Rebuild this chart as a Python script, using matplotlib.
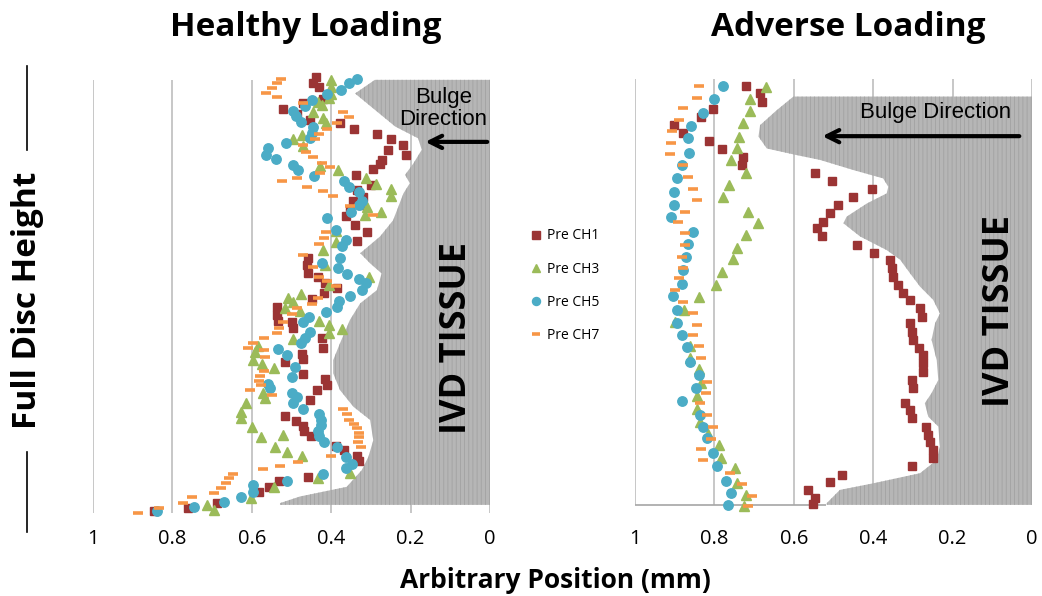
import matplotlib
matplotlib.use('Agg')
import matplotlib.pyplot as plt
from matplotlib.lines import Line2D

plt.rcParams['font.family'] = ['Open Sans', 'DejaVu Sans']
plt.rcParams['hatch.linewidth'] = 0.6

# colours used by the Excel series
RED = '#9b3434'
GREEN = '#9bbb59'
BLUE = '#4bacc6'
ORANGE = '#f79646'
GRID = '#bdbdbd'

ticks = [1, 0.8, 0.6, 0.4, 0.2, 0]
tick_labels = ['1', '0.8', '0.6', '0.4', '0.2', '0']

# ---------------- Healthy loading (left) ----------------
# tissue boundary (position, height %)
hl_bound_x = [0.290, 0.340, 0.239, 0.181, 0.172, 0.193, 0.214, 0.202, 0.218, 0.244,
              0.277, 0.327, 0.302, 0.273, 0.285, 0.327, 0.353, 0.378, 0.395, 0.395,
              0.378, 0.344, 0.302, 0.294, 0.306, 0.323, 0.361, 0.479, 0.529, 0.529]
hl_bound_h = [98.9, 95.8, 88.3, 85.6, 83.0, 79.9, 77.3, 75.4, 73.1, 67.0,
              63.3, 59.5, 57.2, 54.9, 51.1, 48.1, 44.3, 39.0, 35.2, 32.2,
              28.4, 24.6, 21.6, 17.0, 13.3, 10.2, 6.4, 4.2, 2.7, 2.3]

hl_ch1_x = [0.438, 0.447, 0.430, 0.421, 0.472, 0.521, 0.487, 0.453, 0.378, 0.343,
            0.284, 0.250, 0.220, 0.256, 0.212, 0.273, 0.277, 0.294, 0.338, 0.301,
            0.334, 0.319, 0.344, 0.326, 0.353, 0.363, 0.340, 0.311, 0.336, 0.458,
            0.462, 0.458, 0.432, 0.416, 0.386, 0.418, 0.449, 0.536, 0.537, 0.533,
            0.500, 0.495, 0.424, 0.420, 0.474, 0.470, 0.516, 0.472, 0.416, 0.410,
            0.437, 0.453, 0.516, 0.489, 0.472, 0.469, 0.450, 0.388, 0.368, 0.334,
            0.329, 0.458, 0.531, 0.556, 0.581, 0.687, 0.760, 0.846]
hl_ch1_h = [99.5, 98.1, 97.2, 94.5, 93.6, 92.2, 91.1, 89.8, 89.0, 87.7,
            86.6, 85.4, 84.1, 83.0, 81.8, 80.7, 79.8, 78.6, 77.3, 75.0,
            73.9, 72.3, 71.4, 70.5, 69.3, 68.0, 65.9, 64.4, 62.3, 58.3,
            56.8, 54.9, 54.2, 52.7, 51.7, 50.4, 49.1, 47.3, 45.5, 44.1,
            43.8, 42.4, 40.2, 37.9, 36.7, 35.5, 34.8, 32.0, 30.8, 29.5,
            28.4, 26.1, 22.5, 21.4, 20.2, 19.2, 18.0, 15.7, 14.8, 13.3,
            12.3, 8.7, 7.8, 6.4, 5.3, 2.8, 1.7, 0.8]

hl_ch3_x = [0.401, 0.401, 0.401, 0.405, 0.432, 0.424, 0.447, 0.420, 0.413, 0.474,
            0.497, 0.472, 0.428, 0.382, 0.312, 0.287, 0.250, 0.250, 0.311, 0.275,
            0.315, 0.388, 0.388, 0.420, 0.416, 0.304, 0.405, 0.477, 0.508, 0.497,
            0.516, 0.479, 0.430, 0.405, 0.374, 0.405, 0.497, 0.584, 0.592, 0.596,
            0.575, 0.545, 0.571, 0.567, 0.615, 0.626, 0.628, 0.600, 0.578, 0.522,
            0.542, 0.511, 0.474, 0.353, 0.432, 0.544, 0.603, 0.712, 0.695]
hl_ch3_h = [98.9, 97.3, 95.7, 94.7, 93.9, 93.2, 91.7, 90.2, 89.0, 86.4,
            85.4, 83.9, 79.3, 78.4, 76.5, 75.2, 74.0, 72.5, 70.1, 68.9,
            68.2, 64.5, 62.1, 60.2, 56.8, 54.2, 52.3, 50.2, 49.4, 48.3,
            47.1, 46.4, 44.1, 43.2, 42.3, 41.3, 40.0, 38.3, 37.1, 35.2,
            34.3, 33.3, 27.7, 26.5, 25.4, 23.3, 22.0, 20.1, 17.7, 18.2,
            15.5, 14.4, 13.3, 9.5, 8.3, 6.4, 3.8, 2.3, 1.1]

hl_ch5_x = [0.334, 0.354, 0.376, 0.410, 0.449, 0.466, 0.497, 0.489, 0.477, 0.447,
            0.449, 0.453, 0.514, 0.558, 0.563, 0.539, 0.495, 0.483, 0.443, 0.368,
            0.354, 0.329, 0.323, 0.329, 0.351, 0.410, 0.388, 0.363, 0.374, 0.378,
            0.424, 0.382, 0.359, 0.329, 0.312, 0.323, 0.353, 0.380, 0.385, 0.413,
            0.455, 0.472, 0.453, 0.466, 0.477, 0.533, 0.512, 0.491, 0.500, 0.558,
            0.554, 0.500, 0.487, 0.497, 0.472, 0.430, 0.426, 0.426, 0.432, 0.430,
            0.418, 0.386, 0.363, 0.348, 0.363, 0.420, 0.512, 0.596, 0.596, 0.626,
            0.670, 0.746, 0.838]
hl_ch5_h = [99.2, 98.1, 96.7, 95.7, 94.3, 93.0, 91.9, 90.7, 89.4, 88.1,
            86.9, 85.6, 84.5, 83.3, 81.8, 80.8, 79.5, 78.4, 77.0, 76.0,
            74.6, 73.3, 71.4, 70.5, 68.9, 67.4, 64.8, 62.5, 61.2, 58.5,
            57.2, 56.1, 54.7, 53.6, 52.7, 51.1, 49.8, 48.6, 47.3, 46.2,
            45.1, 43.9, 41.5, 40.2, 39.0, 37.7, 36.4, 33.7, 31.4, 29.8,
            28.8, 27.7, 26.9, 25.4, 24.0, 23.0, 21.6, 20.5, 19.2, 18.0,
            16.7, 15.4, 13.1, 11.7, 10.6, 9.3, 7.8, 6.8, 5.3, 4.2,
            3.0, 1.9, 0.8]

hl_ch7_x = [0.527, 0.537, 0.550, 0.563, 0.537, 0.472, 0.371, 0.354, 0.386, 0.411,
            0.430, 0.441, 0.472, 0.463, 0.447, 0.424, 0.403, 0.427, 0.487, 0.525,
            0.462, 0.421, 0.395, 0.353, 0.294, 0.413, 0.418, 0.430, 0.470, 0.445,
            0.430, 0.411, 0.388, 0.432, 0.449, 0.487, 0.500, 0.521, 0.531, 0.537,
            0.569, 0.598, 0.609, 0.569, 0.567, 0.569, 0.579, 0.581, 0.578, 0.605,
            0.550, 0.371, 0.361, 0.354, 0.343, 0.336, 0.329, 0.329, 0.332, 0.326,
            0.401, 0.483, 0.529, 0.571, 0.648, 0.657, 0.665, 0.678, 0.695, 0.751,
            0.774, 0.833, 0.886]
hl_ch7_h = [99.2, 98.1, 97.0, 95.8, 94.9, 93.7, 91.7, 90.5, 89.0, 87.7,
            86.6, 85.4, 84.1, 82.6, 81.3, 80.1, 79.0, 77.8, 76.7, 75.8,
            74.6, 73.7, 72.5, 70.2, 68.2, 64.4, 63.0, 61.5, 59.2, 56.4,
            54.2, 53.2, 52.1, 49.4, 47.9, 47.1, 45.6, 43.9, 42.6, 41.3,
            40.2, 39.2, 38.0, 37.5, 36.0, 32.8, 31.6, 30.5, 29.5, 28.4,
            27.3, 24.0, 23.0, 21.7, 20.7, 19.7, 18.7, 17.7, 16.7, 15.5,
            13.3, 12.1, 11.1, 10.4, 9.3, 8.3, 7.2, 6.1, 4.9, 4.0,
            2.8, 1.7, 0.5]

# ---------------- Adverse loading (right) ----------------
al_bound_x = [0.601, 0.643, 0.685, 0.689, 0.668, 0.593, 0.534, 0.450, 0.375, 0.362,
              0.366, 0.416, 0.467, 0.475, 0.433, 0.366, 0.332, 0.307, 0.282, 0.249,
              0.232, 0.244, 0.253, 0.240, 0.236, 0.253, 0.270, 0.261, 0.236, 0.232,
              0.240, 0.282, 0.400, 0.484, 0.517, 0.517]
al_bound_h = [95.1, 92.0, 88.6, 86.0, 83.3, 81.8, 80.7, 78.4, 76.5, 74.6,
              73.1, 70.8, 67.8, 66.3, 63.3, 60.2, 58.0, 54.9, 51.9, 48.9,
              45.8, 43.6, 39.8, 35.2, 30.7, 27.7, 25.4, 22.3, 20.1, 15.5,
              12.5, 9.5, 7.2, 5.7, 2.7, 2.3]

al_ch1_x = [0.720, 0.685, 0.681, 0.803, 0.835, 0.903, 0.878, 0.813, 0.782, 0.727,
            0.731, 0.547, 0.503, 0.404, 0.450, 0.488, 0.510, 0.526, 0.542, 0.530,
            0.442, 0.398, 0.358, 0.353, 0.349, 0.337, 0.324, 0.307, 0.282, 0.278,
            0.307, 0.303, 0.299, 0.284, 0.275, 0.274, 0.275, 0.303, 0.301, 0.320,
            0.307, 0.303, 0.267, 0.261, 0.257, 0.249, 0.249, 0.303, 0.479, 0.509,
            0.563, 0.547, 0.552]
al_ch1_h = [97.5, 95.8, 93.9, 92.2, 90.4, 88.6, 86.9, 85.0, 83.1, 81.4,
            79.5, 77.7, 75.8, 74.0, 72.3, 70.5, 68.7, 66.7, 65.2, 63.3,
            61.4, 59.5, 58.0, 56.1, 54.2, 52.3, 50.4, 48.9, 47.0, 45.1,
            43.6, 41.7, 39.8, 37.9, 36.4, 34.5, 32.6, 30.7, 28.8, 25.4,
            23.9, 22.0, 20.0, 18.2, 16.7, 14.8, 12.9, 11.2, 9.1, 7.4,
            5.7, 3.9, 2.4]

al_ch3_x = [0.670, 0.710, 0.710, 0.729, 0.737, 0.744, 0.757, 0.720, 0.762, 0.778,
            0.715, 0.689, 0.720, 0.742, 0.752, 0.782, 0.796, 0.838, 0.876, 0.899,
            0.861, 0.861, 0.838, 0.835, 0.843, 0.843, 0.836, 0.815, 0.789, 0.784,
            0.748, 0.742, 0.720, 0.725]
al_ch3_h = [97.3, 94.5, 91.9, 89.0, 86.0, 83.3, 80.7, 77.7, 75.0, 72.2,
            68.9, 66.4, 63.6, 60.6, 58.1, 55.3, 52.3, 49.6, 46.6, 43.9,
            38.3, 35.6, 33.1, 29.9, 27.0, 24.2, 21.2, 18.4, 15.9, 12.9,
            10.6, 7.3, 4.5, 2.0]

al_ch5_x = [0.779, 0.801, 0.828, 0.860, 0.866, 0.863, 0.882, 0.893, 0.902, 0.903,
            0.910, 0.855, 0.866, 0.872, 0.878, 0.882, 0.905, 0.895, 0.893, 0.882,
            0.870, 0.861, 0.840, 0.846, 0.882, 0.836, 0.828, 0.818, 0.804, 0.794,
            0.771, 0.759, 0.765]
al_ch5_h = [97.5, 94.5, 91.4, 88.4, 85.6, 82.3, 79.5, 76.7, 73.5, 70.5,
            67.8, 64.4, 61.7, 58.7, 55.7, 52.5, 49.8, 46.7, 43.7, 40.9,
            38.1, 34.8, 31.8, 28.8, 25.8, 22.7, 20.1, 17.4, 14.0, 11.1,
            7.8, 4.9, 2.3]

al_ch7_x = [0.840, 0.843, 0.878, 0.888, 0.908, 0.910, 0.912, 0.880, 0.866, 0.853,
            0.845, 0.874, 0.891, 0.874, 0.874, 0.882, 0.880, 0.888, 0.899, 0.878,
            0.855, 0.845, 0.855, 0.840, 0.835, 0.819, 0.821, 0.836, 0.819, 0.804,
            0.809, 0.835, 0.828, 0.761, 0.731, 0.706, 0.715]
al_ch7_h = [97.5, 94.8, 92.4, 89.8, 87.3, 84.5, 82.0, 79.5, 76.9, 74.2,
            71.6, 68.9, 66.7, 64.0, 61.4, 58.7, 56.1, 53.8, 51.1, 48.3,
            45.8, 43.2, 40.8, 38.3, 35.6, 30.2, 27.8, 25.4, 22.7, 19.9,
            17.2, 14.9, 12.5, 9.6, 7.0, 4.3, 2.0]

series_labels = ['Pre CH1', 'Pre CH3', 'Pre CH5', 'Pre CH7']

W, H = 1042, 596
fig = plt.figure(figsize=(W / 100, H / 100), dpi=100)


def px_axes(x0, x1, y_top, y_bot):
    return fig.add_axes([x0 / W, 1 - y_bot / H, (x1 - x0) / W, (y_bot - y_top) / H])


def draw_panel(ax, bx, bh, data, grid_top, grid_bot):
    ax.set_xlim(1, 0)
    ax.set_ylim(0, 100)
    for s in ax.spines.values():
        s.set_visible(False)
    ax.vlines(ticks, grid_bot, grid_top, color=GRID, lw=1.2, zorder=0)
    # tissue photo stand-in: light grey with fine vertical texture
    ax.fill_betweenx(bh, bx, 0, facecolor='#b6b6b6', edgecolor='#a2a2a2',
                     hatch='||||', linewidth=0, zorder=1)
    styles = [dict(marker='s', ms=6.3, color=RED),
              dict(marker='^', ms=6.8, color=GREEN),
              dict(marker='o', ms=6.8, color=BLUE),
              dict(marker='_', ms=6.5, mew=2.6, color=ORANGE)]
    handles = []
    for (xs, hs), st, lab in zip(data, styles, series_labels):
        ln, = ax.plot(xs, hs, ls='none', clip_on=False, zorder=3, label=lab, **st)
        handles.append(ln)
    ax.set_xticks(ticks)
    ax.set_xticklabels(tick_labels, fontsize=14.5)
    ax.set_yticks([])
    ax.tick_params(axis='x', length=0, pad=10)
    return handles


ax1 = px_axes(93, 490, 75, 515)
handles = draw_panel(ax1, hl_bound_x, hl_bound_h,
                     [(hl_ch1_x, hl_ch1_h), (hl_ch3_x, hl_ch3_h),
                      (hl_ch5_x, hl_ch5_h), (hl_ch7_x, hl_ch7_h)], 98.9, 0.5)

ax2 = px_axes(635, 1032, 75, 515)
draw_panel(ax2, al_bound_x, al_bound_h,
           [(al_ch1_x, al_ch1_h), (al_ch3_x, al_ch3_h),
            (al_ch5_x, al_ch5_h), (al_ch7_x, al_ch7_h)], 99.2, 2.3)
ax2.hlines(2.3, 1, 0.52, color='#a6a6a6', lw=1.2, zorder=2)

# annotations
ax1.text(0.118, 92.4, 'Bulge\nDirection', ha='center', va='center', fontsize=16,
         family='Liberation Sans', linespacing=1.05, zorder=4)
ax1.annotate('', xy=(0.17, 84.8), xytext=(0.0, 84.8),
             arrowprops=dict(arrowstyle='->', lw=3, color='black', mutation_scale=22),
             annotation_clip=False, zorder=4)
ax2.text(0.242, 91.4, 'Bulge Direction', ha='center', va='center', fontsize=16,
         family='Liberation Sans', zorder=4)
ax2.annotate('', xy=(0.535, 86.1), xytext=(0.025, 86.1),
             arrowprops=dict(arrowstyle='->', lw=3, color='black', mutation_scale=22),
             zorder=4)
ax1.text(0.083, 40.2, 'IVD TISSUE', rotation=90, ha='center', va='center',
         fontsize=26, fontweight='bold', zorder=4)
ax2.text(0.081, 46.4, 'IVD TISSUE', rotation=90, ha='center', va='center',
         fontsize=26, fontweight='bold', zorder=4)

# titles and axis labels
fig.text(306 / W, 1 - 28 / H, 'Healthy Loading', ha='center', va='center',
         fontsize=24, fontweight='bold')
fig.text(848 / W, 1 - 28 / H, 'Adverse Loading', ha='center', va='center',
         fontsize=24, fontweight='bold')
fig.text(555 / W, 1 - 580 / H, 'Arbitrary Position (mm)', ha='center', va='center',
         fontsize=19, fontweight='bold')
fig.text(28 / W, 1 - 300 / H, 'Full Disc Height', rotation=90, ha='center',
         va='center', fontsize=24, fontweight='bold')
fig.add_artist(Line2D([27 / W, 27 / W], [1 - 66 / H, 1 - 150 / H], color='black', lw=1.2))
fig.add_artist(Line2D([27 / W, 27 / W], [1 - 452 / H, 1 - 532 / H], color='black', lw=1.2))

fig.legend(handles=handles, loc='upper left', bbox_to_anchor=(518 / W, 1 - 216 / H),
           frameon=False, fontsize=10, labelspacing=1.3, handlelength=0.8,
           handletextpad=0.4, markerscale=0.85)

fig.savefig('out.png', dpi=100)
